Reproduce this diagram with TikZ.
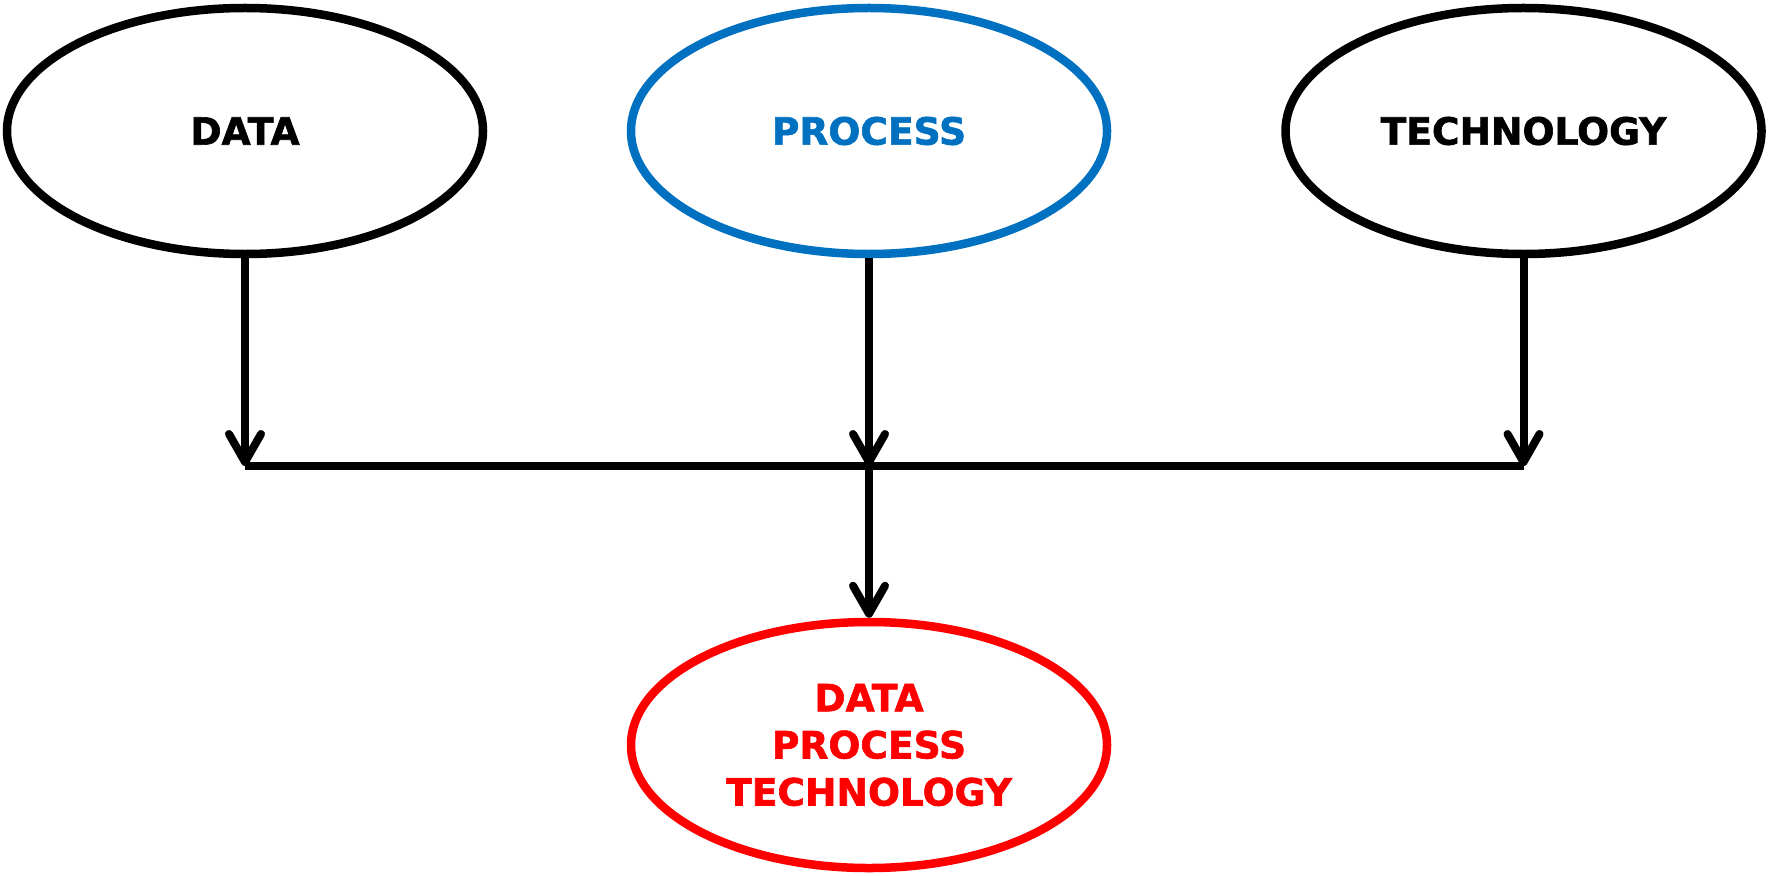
\documentclass[tikz,border=0pt]{standalone}
\usepackage{fontspec}
\setmainfont{DejaVu Sans}
\newfontfamily\heavyfont[FakeBold=1.6]{DejaVu Sans Bold}
\usetikzlibrary{shapes.geometric,arrows.meta,positioning}
\definecolor{procblue}{RGB}{0,112,192}
\tikzset{
  oval/.style={ellipse, draw, line width=0.085cm, minimum width=4.76cm, minimum height=2.46cm,
               inner sep=0pt, align=center, font=\heavyfont\fontsize{10.7}{13.4}\selectfont},
  arr/.style={line width=0.08cm, -{Straight Barb[length=0.28cm,width=0.32cm,round]}},
  bus/.style={line width=0.08cm}
}
\begin{document}
\begin{tikzpicture}
\useasboundingbox (0,0) rectangle (17.68,-8.75);

% the three inputs
\node[oval] (data) at (2.45,-1.31) {DATA};
\node[oval, draw=procblue, text=procblue] (process) at (8.69,-1.31) {PROCESS};
\node[oval] (tech) at (15.235,-1.31) {TECHNOLOGY};

% the result
\node[oval, draw=red, text=red] (dpt) at (8.69,-7.45) {DATA\\PROCESS\\TECHNOLOGY};

% bus line
\coordinate (busL) at (data.south |- 0,-4.66);
\coordinate (busM) at (process.south |- 0,-4.66);
\coordinate (busR) at (tech.south |- 0,-4.66);
\draw[bus] (busL) -- (busR);

\draw[arr] (data.south) -- (busL);
\draw[arr] (process.south) -- (busM);
\draw[arr] (tech.south) -- (busR);
\draw[arr] (busM) -- (dpt.north);

\end{tikzpicture}
\end{document}
